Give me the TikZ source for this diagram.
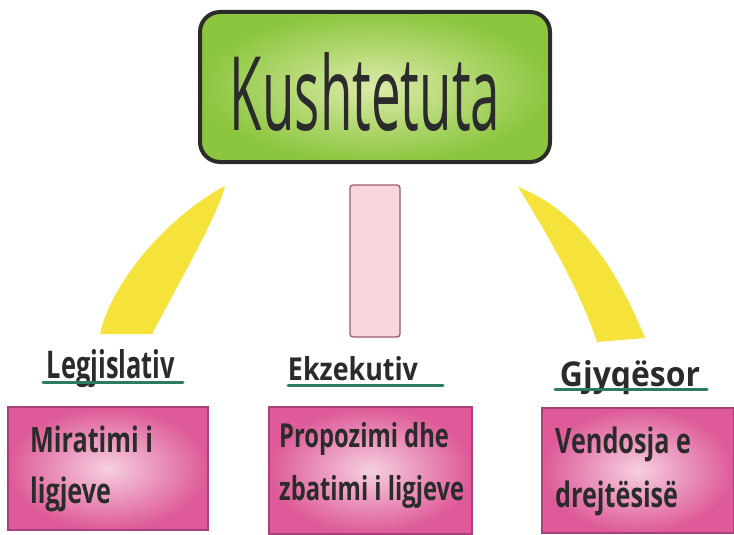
\documentclass[tikz,border=0pt]{standalone}
\usepackage{fontspec}
\newfontfamily\hand[FakeStretch=0.8]{Open Sans}
\newfontfamily\handb[FakeStretch=0.72]{Open Sans Bold}
\definecolor{ink}{HTML}{2B2B2B}
\definecolor{greenout}{HTML}{8CC63F}
\definecolor{greenin}{HTML}{DCEBA8}
\definecolor{pinkout}{HTML}{DE5A98}
\definecolor{pinkin}{HTML}{F6CFE0}
\definecolor{pinkedge}{HTML}{A8407C}
\definecolor{yell}{HTML}{F5E23A}
\definecolor{barfill}{HTML}{F9D6DD}
\definecolor{baredge}{HTML}{9A5A6C}
\definecolor{teal}{HTML}{2F7A60}
\begin{document}
\begin{tikzpicture}[x=1pt,y=-1pt,
  topbox/.style={draw=ink, line width=4pt, rounded corners=20pt,
    inner color=greenin, outer color=greenout, minimum width=350pt, minimum height=150pt, inner sep=0pt},
  pinkbox/.style={draw=pinkedge, line width=1.2pt, inner color=pinkin, outer color=pinkout, inner sep=0pt},
  boxtext/.style={text=ink, anchor=base west, align=left, inner sep=0pt, font=\handb\fontsize{35}{51}\selectfont},
  label/.style={text=ink, anchor=base, inner sep=0pt},
  uline/.style={teal, line width=3pt, line cap=round}]
\useasboundingbox (0,0) rectangle (734,535);

% top box
\node[topbox] (top) at (375,87) {};
\node[text=ink, anchor=base, inner sep=0pt] (toptext) at (365,130) {\resizebox{270pt}{78pt}{\hand Kushtetuta}};

% connectors
\fill[yell] (225,186) .. controls (218,215) and (175,290) .. (152,334) -- (100,334)
  .. controls (112,280) and (170,215) .. cycle;
\node[draw=baredge, line width=1.3pt, fill=barfill, rounded corners=3pt, minimum width=50pt, minimum height=152pt, inner sep=0pt] (bar) at (375,261) {};
\fill[yell] (518,187) .. controls (545,230) and (580,290) .. (597,342) -- (645,338)
  .. controls (625,290) and (590,215) .. cycle;

% labels
\node[label] (leg) at (111,378) {\resizebox{128pt}{29pt}{\handb Legjislativ}};
\draw[uline] (43,382) -- (183,382);
\node[label] (ekz) at (353,380) {\resizebox{130pt}{24pt}{\handb Ekzekutiv}};
\draw[uline] (288,385) -- (443,385);
\node[label] (gjy) at (630,386) {\resizebox{140pt}{26pt}{\handb Gjyqësor}};
\draw[uline] (555,389) -- (707,389);

% bottom boxes
\node[pinkbox, minimum width=200pt, minimum height=123pt] (b1) at (108,468.5) {};
\node[pinkbox, minimum width=203pt, minimum height=127pt] (b2) at (370.5,470.5) {};
\node[pinkbox, minimum width=192pt, minimum height=125pt] (b3) at (638,470.5) {};

\node[boxtext] (t1) at (30,503) {Miratimi i\\ligjeve};
\node[boxtext, font=\handb\fontsize{33}{53}\selectfont] (t2) at (279,500) {Propozimi dhe\\zbatimi i ligjeve};
\node[boxtext, font=\handb\fontsize{35}{54}\selectfont] (t3) at (555,507) {Vendosja e\\drejtësisë};
\end{tikzpicture}
\end{document}
